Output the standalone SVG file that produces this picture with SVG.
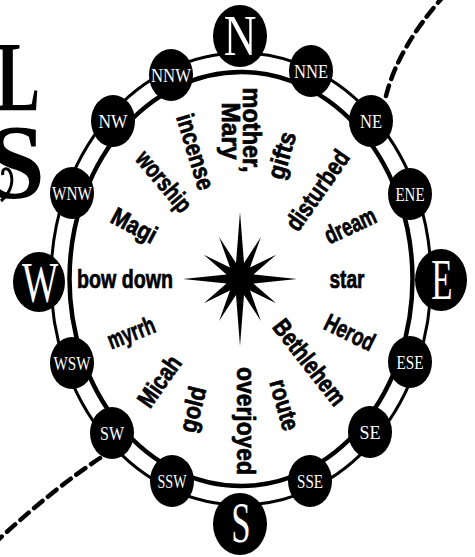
<svg xmlns="http://www.w3.org/2000/svg" width="475" height="557" viewBox="0 0 475 557">
<style>
.word{font-family:"Liberation Sans",Arial,sans-serif;font-weight:bold;font-size:25px;fill:#000;stroke:#000;stroke-width:0.7;text-anchor:middle}
.pt{font-family:"Liberation Serif","Times New Roman",serif;font-size:19px;fill:#fff;text-anchor:middle}
.card{font-family:"Liberation Serif","Times New Roman",serif;font-size:58px;fill:#fff;text-anchor:middle}
.node{fill:#000}
.dash{fill:none;stroke:#000;stroke-width:4.5;stroke-dasharray:11 7;stroke-linecap:round}
.big{font-family:"Liberation Serif","Times New Roman",serif;font-weight:bold;fill:#000}
</style>
<rect width="475" height="557" fill="#fff"/>
<g id="title-letters">
<text class="big" transform="translate(-4,110) scale(0.66,1)" font-size="100">L</text>
<text class="big" x="-14" y="198" font-size="106">S</text>
<path d="M1,201 C9,194 14,184 11,174 C8,166 1,168 3,175" fill="none" stroke="#000" stroke-width="3"/>
</g>
<g id="ring" fill="none" stroke="#000">
<ellipse cx="241" cy="279" rx="190" ry="226" stroke-width="3"/>
<ellipse cx="241" cy="279" rx="171.5" ry="207" stroke-width="4.5"/>
</g>
<g id="connectors">
<path class="dash" d="M386,96 Q398,48 442,-2"/>
<path class="dash" d="M100,458 Q52,490 -2,540"/>
</g>
<g id="node-N"><ellipse class="node" cx="240" cy="36" rx="27" ry="31"/><text class="card" transform="translate(240,55) scale(0.78,1)">N</text></g>
<g id="node-NNE"><ellipse class="node" cx="311" cy="71" rx="22" ry="26"/><text class="pt" x="311" y="78" textLength="34" lengthAdjust="spacingAndGlyphs">NNE</text></g>
<g id="node-NE"><ellipse class="node" cx="371" cy="121" rx="22" ry="26"/><text class="pt" x="371" y="128" textLength="22" lengthAdjust="spacingAndGlyphs">NE</text></g>
<g id="node-ENE"><ellipse class="node" cx="410" cy="194" rx="22" ry="26"/><text class="pt" x="410" y="201" textLength="29" lengthAdjust="spacingAndGlyphs">ENE</text></g>
<g id="node-E"><ellipse class="node" cx="441" cy="280" rx="26" ry="31"/><text class="card" transform="translate(442,299) scale(0.6,1)">E</text></g>
<g id="node-ESE"><ellipse class="node" cx="410" cy="362" rx="22" ry="26"/><text class="pt" x="410" y="369" textLength="27" lengthAdjust="spacingAndGlyphs">ESE</text></g>
<g id="node-SE"><ellipse class="node" cx="370" cy="432" rx="22" ry="26"/><text class="pt" x="370" y="439" textLength="21" lengthAdjust="spacingAndGlyphs">SE</text></g>
<g id="node-SSE"><ellipse class="node" cx="310" cy="481" rx="22" ry="26"/><text class="pt" x="310" y="488" textLength="26" lengthAdjust="spacingAndGlyphs">SSE</text></g>
<g id="node-S"><ellipse class="node" cx="240" cy="524" rx="27" ry="31"/><text class="card" transform="translate(241,542) scale(0.6,1)">S</text></g>
<g id="node-SSW"><ellipse class="node" cx="172" cy="481" rx="22" ry="26"/><text class="pt" x="172" y="488" textLength="29" lengthAdjust="spacingAndGlyphs">SSW</text></g>
<g id="node-SW"><ellipse class="node" cx="112" cy="433" rx="22" ry="26"/><text class="pt" x="112" y="440" textLength="24" lengthAdjust="spacingAndGlyphs">SW</text></g>
<g id="node-WSW"><ellipse class="node" cx="72" cy="363" rx="22" ry="26"/><text class="pt" x="72" y="370" textLength="37" lengthAdjust="spacingAndGlyphs">WSW</text></g>
<g id="node-W"><ellipse class="node" cx="39" cy="282" rx="26" ry="30"/><text class="card" transform="translate(40,302) scale(0.66,1)">W</text></g>
<g id="node-WNW"><ellipse class="node" cx="72" cy="193" rx="22" ry="26"/><text class="pt" x="72" y="200" textLength="40" lengthAdjust="spacingAndGlyphs">WNW</text></g>
<g id="node-NW"><ellipse class="node" cx="113" cy="121" rx="22" ry="26"/><text class="pt" x="113" y="128" textLength="29" lengthAdjust="spacingAndGlyphs">NW</text></g>
<g id="node-NNW"><ellipse class="node" cx="171" cy="75" rx="22" ry="26"/><text class="pt" x="171" y="82" textLength="40" lengthAdjust="spacingAndGlyphs">NNW</text></g>
<g id="star"><polygon fill="#000" points="240,212 244,263 260.9,237.1 250,267.5 276.2,254.8 253.5,274.5 297,279 253.5,283.5 276.2,303.2 250,290.5 260.9,320.9 244,295 240,346 236,295 219.1,320.9 230,290.5 203.8,303.2 226.5,283.5 183,279 226.5,274.5 203.8,254.8 230,267.5 219.1,237.1 236,263"/></g>
<g id="words">
<text class="word" transform="translate(251,130) rotate(90)" y="8" textLength="85" lengthAdjust="spacingAndGlyphs">mother,</text>
<text class="word" transform="translate(230,131) rotate(90)" y="8" textLength="57" lengthAdjust="spacingAndGlyphs">Mary</text>
<text class="word" transform="translate(195,152) rotate(73)" y="8" textLength="78" lengthAdjust="spacingAndGlyphs">incense</text>
<text class="word" transform="translate(284,156) rotate(-74)" y="6" textLength="48" lengthAdjust="spacingAndGlyphs">gifts</text>
<text class="word" transform="translate(317,190) rotate(-55)" y="9" textLength="92" lengthAdjust="spacingAndGlyphs">disturbed</text>
<text class="word" transform="translate(350,225) rotate(-25)" y="9" textLength="54" lengthAdjust="spacingAndGlyphs">dream</text>
<text class="word" x="347" y="288" textLength="35" lengthAdjust="spacingAndGlyphs">star</text>
<text class="word" transform="translate(350,332) rotate(26)" y="9" textLength="53" lengthAdjust="spacingAndGlyphs">Herod</text>
<text class="word" transform="translate(310,362) rotate(52)" y="9" textLength="102" lengthAdjust="spacingAndGlyphs">Bethlehem</text>
<text class="word" transform="translate(284,405) rotate(74)" y="8" textLength="52" lengthAdjust="spacingAndGlyphs">route</text>
<text class="word" transform="translate(243,421) rotate(90)" y="6" textLength="108" lengthAdjust="spacingAndGlyphs">overjoyed</text>
<text class="word" transform="translate(195,410) rotate(-76)" y="6" textLength="46" lengthAdjust="spacingAndGlyphs">gold</text>
<text class="word" transform="translate(159,381) rotate(-55)" y="9" textLength="57" lengthAdjust="spacingAndGlyphs">Micah</text>
<text class="word" transform="translate(132,335) rotate(-21)" y="6" textLength="49" lengthAdjust="spacingAndGlyphs">myrrh</text>
<text class="word" x="125" y="288" textLength="96" lengthAdjust="spacingAndGlyphs">bow down</text>
<text class="word" transform="translate(134,226) rotate(28)" y="8" textLength="48" lengthAdjust="spacingAndGlyphs">Magi</text>
<text class="word" transform="translate(162,183) rotate(50)" y="6" textLength="72" lengthAdjust="spacingAndGlyphs">worship</text>
</g>
</svg>
